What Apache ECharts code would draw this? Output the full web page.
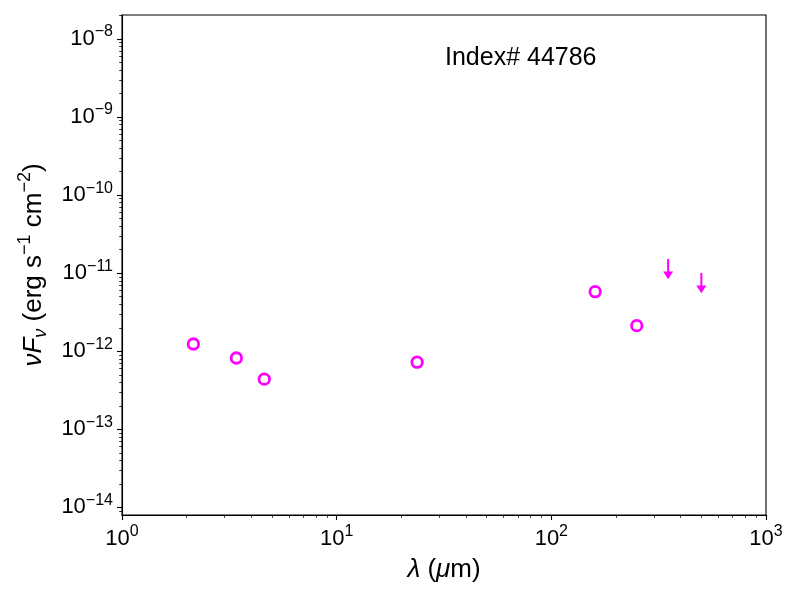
<!DOCTYPE html>
<html>
<head>
<meta charset="utf-8">
<script src="https://cdn.jsdelivr.net/npm/echarts@6/dist/echarts.min.js"></script>
<style>
html, body { margin: 0; padding: 0; background: #fff; }
#main { width: 800px; height: 600px; }
</style>
</head>
<body>
<div id="main"></div>
<script>
// photometry (wavelength in micron, nuFnu in erg/s/cm2)
var wavelength = [2.15, 3.41, 4.60, 23.7, 160, 250];
var flux = [1.24e-12, 8.2e-13, 4.4e-13, 7.25e-13, 5.8e-12, 2.13e-12];
// upper limits: arrow starts at the limit and points down
var limWavelength = [350, 500];
var limFlux = [1.52e-11, 1.01e-11];
var limArrowEnd = [8.4e-12, 5.55e-12];

var xMajor = [1, 10, 100, 1000];
var yMajor = [1e-14, 1e-13, 1e-12, 1e-11, 1e-10, 1e-9, 1e-8];
var titleText = 'Index# 44786';

var xMin = 1, xMax = 1000;
var yMin = 8e-15, yMax = 2.03e-8;

var font = 'Liberation Sans, Arial, Helvetica, sans-serif';
var magenta = '#ff00ff';

// minor ticks at 2..9 of each decade
function minorTicks(lo, hi) {
    var out = [];
    for (var e = Math.floor(Math.log10(lo)); e <= Math.ceil(Math.log10(hi)); e++) {
        for (var k = 2; k <= 9; k++) {
            var v = k * Math.pow(10, e);
            if (v > lo && v < hi) out.push(v);
        }
    }
    return out;
}
var xMinor = minorTicks(xMin, xMax);
var yMinor = minorTicks(yMin, yMax);

function powLabel(v) {
    var e = Math.round(Math.log10(v));
    if (Math.abs(Math.log10(v) - e) > 1e-6) return '';
    return '{b|10}{s|' + (e < 0 ? '\u2212' : '') + Math.abs(e) + '}';
}
var tickRich = {
    b: { fontSize: 22, lineHeight: 30, fontFamily: font, color: '#000' },
    s: { fontSize: 16, lineHeight: 16, verticalAlign: 'top', fontFamily: font, color: '#000' }
};

var points = wavelength.map(function (x, i) { return [x, flux[i]]; });
var limits = limWavelength.map(function (x, i) { return [x, limFlux[i], limArrowEnd[i]]; });

option = {
    backgroundColor: '#fff',
    animation: false,
    grid: {
        left: 122, right: 34, top: 15, bottom: 85,
        show: true, borderColor: '#000', borderWidth: 1.1
    },
    graphic: [{
        type: 'text',
        left: 445,
        top: 46,
        style: { text: titleText, fontSize: 25, fontFamily: font, fill: '#000' }
    }],
    xAxis: [{
        type: 'log',
        min: xMin,
        max: xMax,
        position: 'bottom',
        name: '{i|\u03bb}{n| (}{i|\u03bc}{n|m)}',
        nameLocation: 'middle',
        nameGap: 42,
        nameTextStyle: {
            fontSize: 26, fontFamily: font, color: '#000',
            rich: {
                i: { fontSize: 26, fontStyle: 'italic', fontFamily: font, color: '#000' },
                n: { fontSize: 26, fontFamily: font, color: '#000' }
            }
        },
        axisLine: { show: true, lineStyle: { color: '#000', width: 1.1 } },
        axisTick: { show: true, length: 5, customValues: xMajor, lineStyle: { color: '#000', width: 1.1 } },
        axisLabel: { show: true, margin: 9, customValues: xMajor, formatter: powLabel, rich: tickRich },
        splitLine: { show: false }
    }, {
        type: 'log',
        min: xMin,
        max: xMax,
        position: 'bottom',
        axisLine: { show: false },
        axisTick: { show: true, length: 2.8, customValues: xMinor, lineStyle: { color: '#000', width: 0.8 } },
        axisLabel: { show: false },
        splitLine: { show: false }
    }],
    yAxis: [{
        type: 'log',
        min: yMin,
        max: yMax,
        position: 'left',
        name: '{i|\u03bdF}{sub|\u03bd}{n| (erg s}{sup|\u22121}{n| cm}{sup|\u22122}{n|)}',
        nameLocation: 'middle',
        nameGap: 71,
        nameTextStyle: {
            fontSize: 26, fontFamily: font, color: '#000',
            rich: {
                i: { fontSize: 26, lineHeight: 34, fontStyle: 'italic', fontFamily: font, color: '#000' },
                n: { fontSize: 26, lineHeight: 34, fontFamily: font, color: '#000' },
                sub: { fontSize: 18, lineHeight: 18, fontStyle: 'italic', verticalAlign: 'bottom', fontFamily: font, color: '#000' },
                sup: { fontSize: 18, lineHeight: 18, verticalAlign: 'top', fontFamily: font, color: '#000' }
            }
        },
        axisLine: { show: true, lineStyle: { color: '#000', width: 1.1 } },
        axisTick: { show: true, length: 5, customValues: yMajor, lineStyle: { color: '#000', width: 1.1 } },
        axisLabel: { show: true, margin: 9, customValues: yMajor, formatter: powLabel, rich: tickRich },
        splitLine: { show: false }
    }, {
        type: 'log',
        min: yMin,
        max: yMax,
        position: 'left',
        axisLine: { show: false },
        axisTick: { show: true, length: 2.8, customValues: yMinor, lineStyle: { color: '#000', width: 0.8 } },
        axisLabel: { show: false },
        splitLine: { show: false }
    }],
    series: [{
        type: 'scatter',
        xAxisIndex: 0,
        yAxisIndex: 0,
        data: points,
        symbol: 'circle',
        symbolSize: 10.5,
        itemStyle: { color: 'rgba(0,0,0,0)', borderColor: magenta, borderWidth: 2.8, opacity: 1 }
    }, {
        type: 'custom',
        xAxisIndex: 0,
        yAxisIndex: 0,
        data: limits,
        encode: { x: 0, y: [1, 2] },
        renderItem: function (params, api) {
            var top = api.coord([api.value(0), api.value(1)]);
            var tip = api.coord([api.value(0), api.value(2)]);
            var head = 7.6, half = 5;
            return {
                type: 'group',
                children: [{
                    type: 'line',
                    shape: { x1: top[0], y1: top[1], x2: tip[0], y2: tip[1] - head + 1 },
                    style: { stroke: magenta, lineWidth: 2 }
                }, {
                    type: 'polygon',
                    shape: { points: [[tip[0] - half, tip[1] - head], [tip[0] + half, tip[1] - head], [tip[0], tip[1]]] },
                    style: { fill: magenta }
                }]
            };
        }
    }]
};

var dom = document.getElementById('main');
var myChart = echarts.init(dom);
myChart.setOption(option);
</script>
</body>
</html>
